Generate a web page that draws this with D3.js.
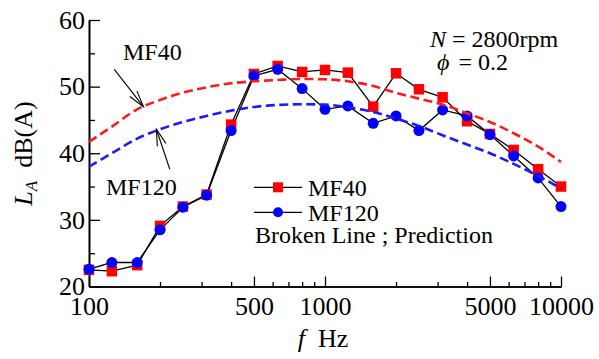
<!DOCTYPE html>
<html>
<head>
<meta charset="utf-8">
<script src="https://cdn.jsdelivr.net/npm/d3@7"></script>
<style>
  body { margin: 0; background: #fff; }
</style>
</head>
<body>
<svg id="chart" width="599" height="359"></svg>
<script>
// 1/3 octave band centre frequencies
var freqs = [100,125,160,200,250,315,400,500,630,800,1000,1250,1600,2000,2500,3150,4000,5000,6300,8000,10000];
// measured
var mf40  = [22.5,22.3,23.2,29.1,32.0,33.8,44.3,51.9,53.1,52.2,52.5,52.1,47.0,52.0,49.6,48.4,44.8,42.9,40.5,37.6,35.0];
var mf120 = [22.6,23.6,23.6,28.5,31.9,33.7,43.4,51.6,52.6,49.7,46.6,47.1,44.5,45.6,43.4,46.5,45.6,42.8,39.6,36.3,32.0];
// prediction (broken lines)
var pred40  = [41.7,44.0,46.6,48.0,49.1,49.9,50.5,50.8,51.0,51.15,51.1,50.8,50.1,49.05,48.2,47.3,46.0,44.7,43.0,41.0,38.7];
var pred120 = [38.0,40.0,42.2,43.6,44.7,45.6,46.4,46.95,47.25,47.35,47.3,46.9,46.2,45.2,44.1,42.7,41.3,40.0,38.4,36.6,34.7];

var xMajor = [100,500,1000,5000,10000];
var xMinor = [200,300,400,600,700,800,900,2000,3000,4000,6000,7000,8000,9000];
var yMajor = [20,30,40,50,60];
var yMinor = [25,35,45,55];

var FONT = "'Liberation Serif', 'Times New Roman', serif";
var svg = d3.select("#chart");
var x = d3.scaleLog().domain([100,10000]).range([89,561]);
var y = d3.scaleLinear().domain([20,60]).range([286.5,20]);
var FS = 26;

function pts(vals){ return freqs.map(function(f,i){ return [f, vals[i]]; }); }

// axes
var gx = svg.append("g").attr("transform","translate(0," + y(20) + ")");
gx.call(d3.axisBottom(x).tickValues(xMinor).tickSize(-4.5).tickSizeOuter(0).tickFormat(""));
gx.append("g").call(d3.axisBottom(x).tickValues(xMajor).tickSize(-10).tickSizeOuter(0).tickPadding(10).tickFormat(d3.format("d")));
var gy = svg.append("g").attr("transform","translate(" + x(100) + ",0)");
gy.call(d3.axisLeft(y).tickValues(yMinor).tickSize(-6).tickSizeOuter(0).tickFormat(""));
gy.append("g").call(d3.axisLeft(y).tickValues(yMajor).tickSize(-11).tickSizeOuter(0).tickPadding(4));

svg.selectAll(".domain").attr("stroke","#000").attr("stroke-width",1.6);
svg.selectAll(".tick line").attr("stroke","#000").attr("stroke-width",1.3);
svg.selectAll(".tick text").attr("fill","#000").style("font-size",FS + "px").style("font-family",FONT);

// measured lines + markers
var line = d3.line().x(function(d){ return x(d[0]); }).y(function(d){ return y(d[1]); });
svg.append("path").datum(pts(mf40)).attr("d",line).attr("fill","none").attr("stroke","#000").attr("stroke-width",1.3);
svg.append("path").datum(pts(mf120)).attr("d",line).attr("fill","none").attr("stroke","#000").attr("stroke-width",1.3);

var SQ = 10.5;
svg.append("g").selectAll("rect").data(pts(mf40)).enter().append("rect")
  .attr("x",function(d){ return x(d[0]) - SQ/2; })
  .attr("y",function(d){ return y(d[1]) - SQ/2; })
  .attr("width",SQ).attr("height",SQ).attr("fill","#ff0000");
svg.append("g").selectAll("circle").data(pts(mf120)).enter().append("circle")
  .attr("cx",function(d){ return x(d[0]); })
  .attr("cy",function(d){ return y(d[1]); })
  .attr("r",5.5).attr("fill","#0000ff");

// predictions
var curve = d3.line().curve(d3.curveMonotoneX).x(function(d){ return x(d[0]); }).y(function(d){ return y(d[1]); });
svg.append("path").datum(pts(pred40)).attr("d",curve).attr("fill","none")
  .attr("stroke","#ff1a1a").attr("stroke-width",2.6).attr("stroke-dasharray","9,4.5");
svg.append("path").datum(pts(pred120)).attr("d",curve).attr("fill","none")
  .attr("stroke","#1a1aff").attr("stroke-width",2.6).attr("stroke-dasharray","9,4.5");

// arrows
function arrow(x0,y0,x1,y1){
  var ang = Math.atan2(y1-y0, x1-x0), L = 17, a = 0.27;
  svg.append("line").attr("x1",x0).attr("y1",y0).attr("x2",x1).attr("y2",y1).attr("stroke","#000").attr("stroke-width",1.1);
  svg.append("path")
    .attr("d","M" + (x1 - L*Math.cos(ang-a)) + "," + (y1 - L*Math.sin(ang-a)) + "L" + x1 + "," + y1 +
              "L" + (x1 - L*Math.cos(ang+a)) + "," + (y1 - L*Math.sin(ang+a)))
    .attr("fill","none").attr("stroke","#000").attr("stroke-width",1.1);
}
arrow(x(128), y(52.6), x(170), y(47.0));
arrow(x(220), y(37.6), x(193), y(43.6));

// annotation text
function txt(px,py,s,size){
  return svg.append("text").attr("x",px).attr("y",py).attr("fill","#000")
    .style("font-size",(size||24) + "px").style("font-family",FONT).text(s);
}
txt(123,60,"MF40");
txt(106,195,"MF120");

var t1 = txt(430,47,"");
t1.append("tspan").style("font-style","italic").text("N");
t1.append("tspan").text(" = 2800rpm");
var t2 = txt(437,70,"");
t2.append("tspan").style("font-style","italic").text("\u03D5");
t2.append("tspan").attr("dx",3).text(" = 0.2");

// legend
var leg = [{y:187.3, name:"MF40", shape:"sq"}, {y:212.3, name:"MF120", shape:"ci"}];
leg.forEach(function(l){
  svg.append("line").attr("x1",254).attr("x2",302).attr("y1",l.y).attr("y2",l.y).attr("stroke","#000").attr("stroke-width",1.3);
  if (l.shape == "sq") svg.append("rect").attr("x",278-5).attr("y",l.y-5).attr("width",10).attr("height",10).attr("fill","#ff0000");
  else svg.append("circle").attr("cx",278).attr("cy",l.y).attr("r",5).attr("fill","#0000ff");
  txt(308, l.y + 8.5, l.name);
});
txt(255,243,"Broken Line ; Prediction");

// axis titles
var xt = txt(323,347,"",FS).attr("text-anchor","middle");
xt.append("tspan").style("font-style","italic").text("f");
xt.append("tspan").text("\u00A0\u00A0Hz");

var yt = txt(0,0,"",FS).attr("transform","translate(32,153.5) rotate(-90)").attr("text-anchor","middle");
yt.append("tspan").style("font-style","italic").text("L");
yt.append("tspan").style("font-style","italic").style("font-size","17px").attr("dy",5).text("A");
yt.append("tspan").attr("dy",-5).text("\u00A0\u00A0dB(A)");
</script>
</body>
</html>
